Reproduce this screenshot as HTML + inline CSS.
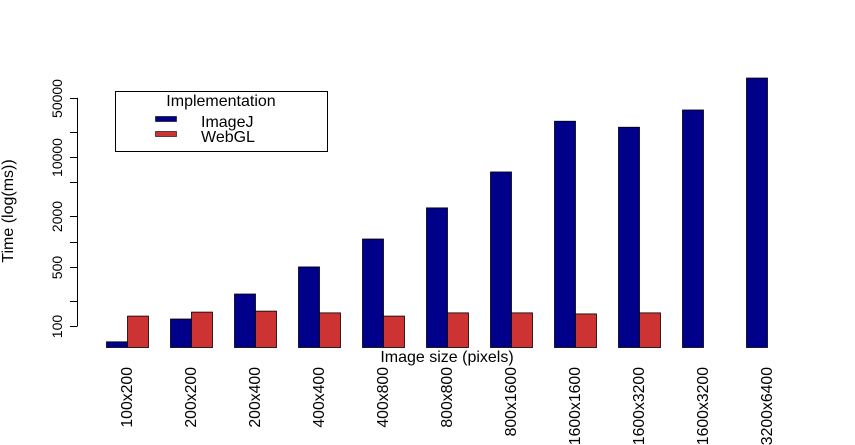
<!DOCTYPE html>
<html><head><meta charset="utf-8"><style>
html,body{margin:0;padding:0;background:#fff;}
svg{display:block;font-family:"Liberation Sans",sans-serif;}
</style></head><body>
<svg id="chart" width="855" height="445" viewBox="0 0 855 445">
<g id="bars"></g>
<g id="axis"></g>
<g id="xlabels"></g>
<text x="13" y="211" transform="rotate(-90 13 211)" text-anchor="middle" font-size="16">Time (log(ms))</text>
<text x="447" y="362" text-anchor="middle" font-size="16">Image size (pixels)</text>
<g>
<rect x="115.5" y="91.5" width="212" height="60" fill="#fff" stroke="#000"/>
<text x="221" y="106" text-anchor="middle" font-size="16">Implementation</text>
<rect x="155.5" y="116.5" width="21" height="5" fill="#00008B" stroke="#000" stroke-width="0.6"/>
<text x="201" y="127" font-size="16">ImageJ</text>
<rect x="155.5" y="131.5" width="21" height="5" fill="#CD3333" stroke="#000" stroke-width="0.6"/>
<text x="201" y="142" font-size="16">WebGL</text>
</g>
</svg>
<script>
const categories = ["100x200","200x200","200x400","400x400","400x800","800x800","800x1600","1600x1600","1600x3200","1600x3200","3200x6400"];
const imagej = [65,121,239,500,1070,2500,6650,26500,22500,36000,86000];
const webgl = [131,146,150,143,131,143,143,139,143,null,null];
const yTicks = [100,200,500,1000,2000,5000,10000,20000,50000];
const yTickLabels = ["100","","500","","2000","","10000","","50000"];

const NS = "http://www.w3.org/2000/svg";
const baseY = 347.5;
function yScale(v){ return 326 - 84.5*Math.log10(v/100); }
function xGroup(i){ return 106 + 64*i; }
const bw = 21;
function mk(tag, attrs, parent){ const e=document.createElementNS(NS,tag); for(const k in attrs) e.setAttribute(k,attrs[k]); parent.appendChild(e); return e; }

const bars = document.getElementById('bars');
categories.forEach((c,i)=>{
  const x = xGroup(i);
  [[imagej[i],"#00008B",0,"imagej"],[webgl[i],"#CD3333",bw,"webgl"]].forEach(([v,col,off,nm])=>{
    if(v==null) return;
    const y = yScale(v);
    const r = mk('rect',{x:x+off+0.5,y:y,width:bw,height:baseY-y,fill:col,stroke:"#000","stroke-width":0.8},bars);
    
    
  });
  const lx = x + bw + 5, ly = 367;
  const t = mk('text',{x:lx,y:ly,transform:`rotate(-90 ${lx} ${ly})`,"text-anchor":"end","font-size":15.8},document.getElementById('xlabels'));
  t.textContent = c;
  
  
});

const ax = document.getElementById('axis');
const y0 = yScale(yTicks[0]), y1 = yScale(yTicks[yTicks.length-1]);
const line = mk('line',{x1:77.5,x2:77.5,y1:y0,y2:y1,stroke:"#000"},ax);


yTicks.forEach((v,i)=>{
  const y = Math.round(yScale(v))+0.5;
  const tk = mk('line',{x1:70,x2:77.5,y1:y,y2:y,stroke:"#000"},ax);
  
  
  if(yTickLabels[i]){
    const t = mk('text',{x:62,y:y,transform:`rotate(-90 62 ${y})`,"text-anchor":"middle","font-size":14},ax);
    t.textContent = yTickLabels[i];
    
    
  }
});
</script>
</body></html>
